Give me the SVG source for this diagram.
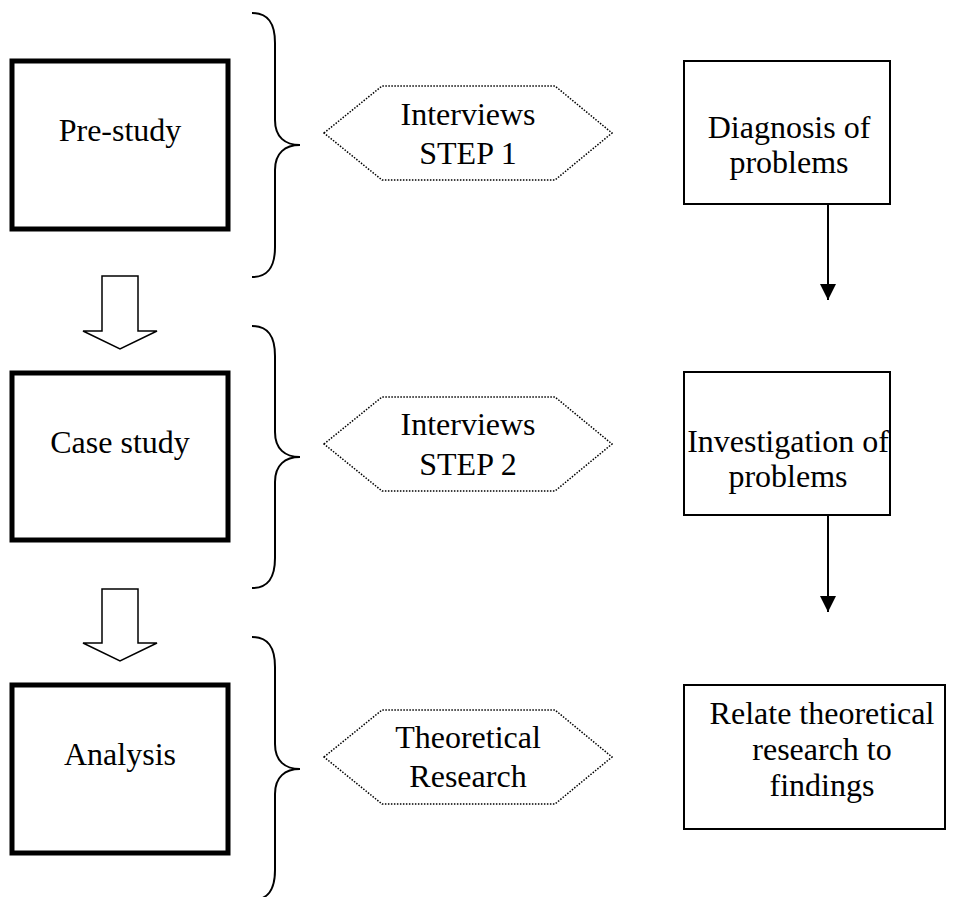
<svg xmlns="http://www.w3.org/2000/svg" width="961" height="897" viewBox="0 0 961 897">
  <style>
    text { font-family: "Liberation Serif", "Times New Roman", serif; font-size: 32px; fill: #000; text-anchor: middle; }
    .stage { fill: #fff; stroke: #000; stroke-width: 5; }
    .result { fill: #fff; stroke: #000; stroke-width: 2; }
    .hex { fill: #fff; stroke: #000; stroke-width: 1.5; stroke-dasharray: 1.5 1.5; }
    .brace { fill: none; stroke: #000; stroke-width: 2; }
    .block { fill: #fff; stroke: #000; stroke-width: 1.5; stroke-linejoin: miter; }
    .link { fill: none; stroke: #000; stroke-width: 2; }
  </style>
  <defs>
    <marker id="head" viewBox="0 0 16 16" refX="16" refY="8" markerWidth="16" markerHeight="16" markerUnits="userSpaceOnUse" orient="auto">
      <path d="M0,0 L16,8 L0,16 Z" fill="#000"/>
    </marker>
  </defs>
  <rect width="961" height="897" fill="#fff"/>

  <!-- left column: research stages -->
  <g id="pre-study">
    <rect class="stage" x="12" y="61" width="216" height="168"/>
    <text x="120" y="141">Pre-study</text>
  </g>
  <g id="case-study">
    <rect class="stage" x="12" y="373" width="216" height="167"/>
    <text x="120" y="453">Case study</text>
  </g>
  <g id="analysis">
    <rect class="stage" x="12" y="685" width="216" height="168"/>
    <text x="120" y="765">Analysis</text>
  </g>

  <!-- curly braces grouping each stage -->
  <g id="brace-1">
    <path class="brace" d="M252,13 C268,13 275,23 275,43 L275,120 C275,137 285,145 300,145 C285,145 275,153 275,170 L275,247 C275,267 268,277 252,277"/>
  </g>
  <g id="brace-2">
    <path class="brace" d="M252,326 C268,326 275,336 275,356 L275,432 C275,449 285,457 300,457 C285,457 275,465 275,482 L275,558 C275,578 268,588 252,588"/>
  </g>
  <g id="brace-3">
    <path class="brace" d="M252,637 C268,637 275,647 275,667 L275,744 C275,761 285,769 300,769 C285,769 275,777 275,794 L275,870 C275,890 268,900 252,900"/>
  </g>

  <!-- middle column: methods -->
  <g id="interviews-1">
    <polygon class="hex" points="324,133 382,86 555,86 612,133 555,180 382,180"/>
    <text x="468" y="125">Interviews</text>
    <text x="468" y="164">STEP 1</text>
  </g>
  <g id="interviews-2">
    <polygon class="hex" points="324,444 382,397 555,397 612,444 555,491 382,491"/>
    <text x="468" y="435">Interviews</text>
    <text x="468" y="475">STEP 2</text>
  </g>
  <g id="theoretical-research">
    <polygon class="hex" points="324,757 382,710 555,710 612,757 555,804 382,804"/>
    <text x="468" y="748">Theoretical</text>
    <text x="468" y="787">Research</text>
  </g>

  <!-- right column: outcomes -->
  <g id="diagnosis">
    <rect class="result" x="684" y="61" width="206" height="143"/>
    <text x="789" y="138">Diagnosis of</text>
    <text x="789" y="173">problems</text>
  </g>
  <g id="investigation">
    <rect class="result" x="684" y="372" width="206" height="143"/>
    <text x="788" y="452">Investigation of</text>
    <text x="788" y="487">problems</text>
  </g>
  <g id="relate">
    <rect class="result" x="684" y="685" width="261" height="144"/>
    <text x="822" y="724">Relate theoretical</text>
    <text x="822" y="760">research to</text>
    <text x="822" y="796">findings</text>
  </g>

  <!-- connectors -->
  <g id="connectors">
    <path class="block" d="M102,276 L138,276 L138,331 L157,331 L120,349 L83,331 L102,331 Z"/>
    <path class="block" d="M102,589 L138,589 L138,643 L157,643 L120,661 L83,643 L102,643 Z"/>
    <line class="link" x1="828" y1="205" x2="828" y2="300" marker-end="url(#head)"/>
    <line class="link" x1="828" y1="516" x2="828" y2="612" marker-end="url(#head)"/>
  </g>
</svg>
